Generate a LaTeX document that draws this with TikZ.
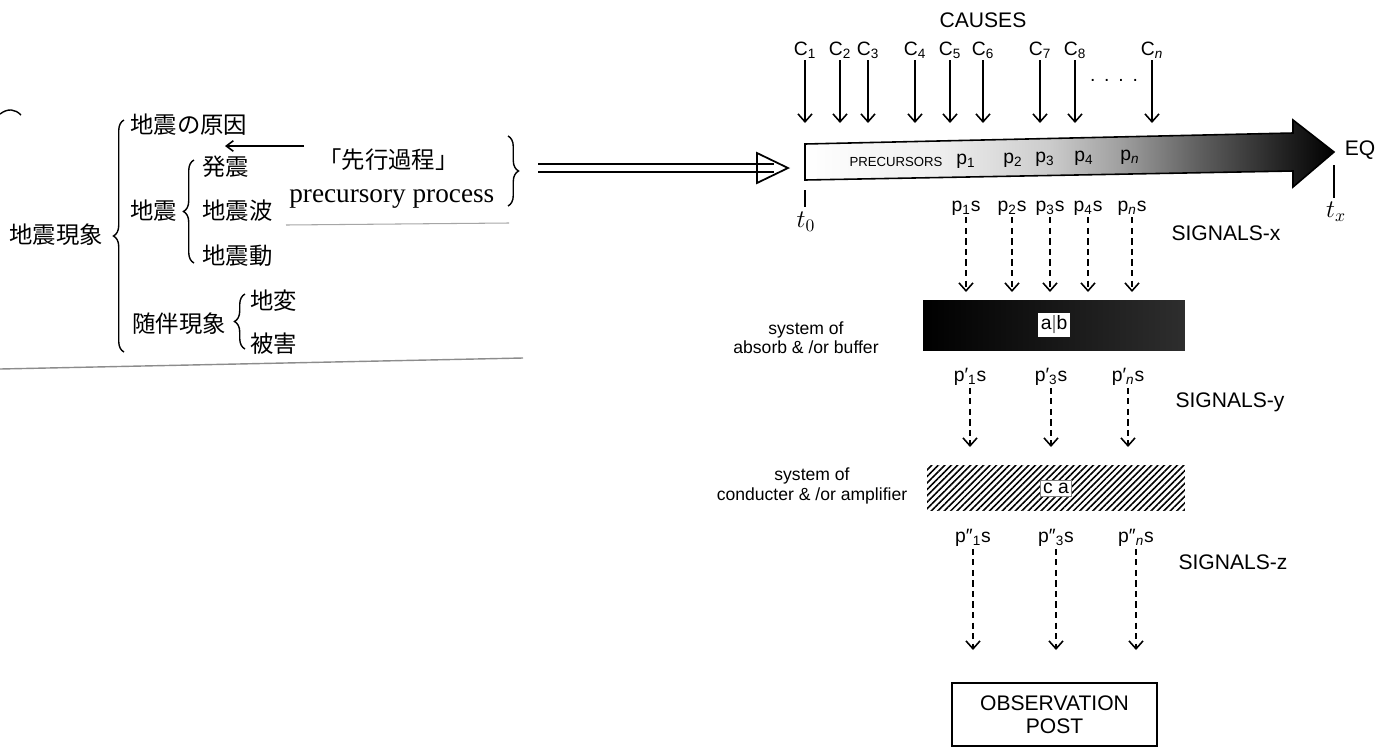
\documentclass[tikz,border=0pt]{standalone}
\usepackage{fontspec}
\setmainfont{Liberation Serif}
\setsansfont{Liberation Sans}
\newfontfamily\jpfont{Noto Sans CJK JP}
\usepackage{tikz}
\usetikzlibrary{positioning,arrows.meta,calc,patterns.meta,decorations.pathreplacing}
% light stipple on the left, black at the head
\pgfdeclarehorizontalshading{precshade}{100bp}{color(0bp)=(white); color(25bp)=(white); color(38bp)=(black!7); color(48bp)=(black!20); color(55bp)=(black!38); color(62bp)=(black!62); color(70bp)=(black!86); color(75bp)=(black); color(100bp)=(black)}

\begin{document}
\begin{tikzpicture}[x=0.02cm,y=-0.02cm,
  jp/.style={font=\jpfont\fontsize{13.3}{16}\selectfont,inner sep=0pt},
  sf/.style={font=\sffamily\fontsize{11}{13}\selectfont,inner sep=1pt},
  sfl/.style={font=\sffamily\fontsize{12}{14}\selectfont,inner sep=1pt},
  sfs/.style={font=\sffamily\fontsize{10}{11}\selectfont,align=center,inner sep=1pt},
  tlab/.style={font=\fontsize{14}{16}\selectfont,inner sep=1pt},
  cur/.style={decorate,decoration={brace,amplitude=6pt},line width=0.8pt},
  hit/.style={-{Straight Barb[length=4.5pt,width=8pt]},line width=0.9pt},
  sigarr/.style={hit,dash pattern=on 3.5pt off 2.5pt}]
  \useasboundingbox (0,0) rectangle (1383,751);

  % left: classification of earthquake phenomena
  \draw[line width=0.8pt] (0,114) .. controls (8,108) and (15,109) .. (21,115);
  \node[jp] (quake) at (56,235) {地震現象};
  \node[jp,anchor=west] (cause) at (130,125) {地震の原因};
  \node[jp,anchor=west] (shock) at (130,211) {地震};
  \node[jp,anchor=west] (attend) at (132,324) {随伴現象};
  \node[jp,anchor=west] (onset) at (202,167) {発震};
  \node[jp,anchor=west] (wave) at (202,211) {地震波};
  \node[jp,anchor=west] (motion) at (202,256) {地震動};
  \node[jp,anchor=west] (deform) at (250,301) {地変};
  \node[jp,anchor=west] (damage) at (250,344) {被害};
  \node[jp,anchor=west] (senko) at (318,160) {「先行過程」};
  \node[font=\fontsize{15.5}{18}\selectfont,anchor=west,inner sep=0pt] (precproc) at (289,199) {precursory process};
  \draw[cur] (124,352) -- (124,120);
  \draw[cur] (194,263) -- (194,160);
  \draw[cur] (245,349) -- (245,294);
  \draw[cur] (508,136) -- (508,206);
  \coordinate (senkoarr) at (304,146);
  \coordinate (onsetarr) at (225,146);
  \draw[-{Straight Barb[length=4pt,width=6pt]},line width=0.9pt] (senkoarr) -- (onsetarr);
  \draw[black!35,line width=0.6pt] (286,225) -- (509,223);
  \draw[black!45,line width=0.8pt] (0,369) -- (523,358);

  % double arrow to the time bar
  \coordinate (bracetip) at (520,168);
  \coordinate (bartail) at (788,168);
  \draw[line width=1pt] ($(bracetip)+(18,-4)$) -- ($(bartail)+(-14,-4)$)
                        ($(bracetip)+(18,4)$) -- ($(bartail)+(-14,4)$);
  \draw[line width=1pt,line join=miter] ($(bartail)+(-31,-15)$) -- (bartail) -- ($(bartail)+(-31,15)$) -- cycle;

  % causes
  \node[sfl] (causes) at (983,20) {CAUSES};
  \coordinate (bartop) at (0,123);
  \foreach \x/\s [count=\i] in {805/1,840/2,868/3,915/4,950/5,983/6,1040/7,1075/8,1152/\textit{n}}{
    \node[sf] (c\i) at (\x,50) {C\textsubscript{\s}};
    \draw[hit] (c\i.south) -- (c\i.south |- bartop);
  }
  \node[sf] (cdots) at (1114,80) {.\hspace{5pt}.\hspace{5pt}.\hspace{5pt}.};

  % precursor bar
  \shadedraw[shading=precshade,draw=black,line width=0.9pt,line join=miter]
    (805,144) -- (1293,133) -- (1293,120) -- (1334,152) -- (1293,187) -- (1293,171) -- (805,180) -- cycle;
  \node[font=\sffamily\fontsize{7.5}{9}\selectfont,inner sep=1pt] (precs) at (896,162) {PRECURSORS};
  \foreach \x/\y/\s [count=\i] in {966/161/1,1013/160/2,1045/159/3,1084/158/4,1130/157/\textit{n}}
    \node[sf] (p\i) at (\x,\y) {p\textsubscript{\s}};
  \coordinate (tstart) at (805,190);
  \coordinate (tend) at (1334,165);
  \draw[line width=0.9pt] (tstart) -- ++(0,17);
  \draw[line width=0.9pt] (tend) -- ++(0,33);
  \node[tlab] (t0) at (806,222) {$t_0$};
  \node[tlab] (tx) at (1336,212) {$t_x$};
  \node[sfl] (eqk) at (1360,150) {EQ};

  % signals x
  \coordinate (absorbtop) at (0,292);
  \foreach \x/\s [count=\i] in {966/1,1012/2,1050/3,1088/4,1132/\textit{n}}{
    \node[sf] (sx\i) at (\x,208) {p\textsubscript{\s}s};
    \draw[sigarr] (sx\i.south) -- (sx\i.south |- absorbtop);
  }
  \node[sfl] (sigx) at (1226,233) {SIGNALS-x};

  % absorb / buffer
  \node[left color=black,right color=black!82,minimum width=5.24cm,minimum height=1cm,inner sep=0pt] (absorb) at (1054,325) {};
  \node[sf,fill=white,inner sep=1.5pt] (abtag) at (absorb) {a{\color{black!55}|}b};
  \node[sfs] (sysab) at (806,338) {system of\\absorb \& /or buffer};

  % signals y
  \coordinate (condtop) at (0,447);
  \foreach \x/\s [count=\i] in {970/1,1051/3,1128/\textit{n}}{
    \node[sf] (sy\i) at (\x,377) {p′\textsubscript{\s}s};
    \draw[sigarr] (sy\i.south) -- (sy\i.south |- condtop);
  }
  \node[sfl] (sigy) at (1230,402) {SIGNALS-y};

  % conductor / amplifier
  \node[pattern={Lines[angle=45,distance=2.6pt,line width=0.9pt]},minimum width=5.16cm,minimum height=0.9cm,inner sep=0pt] (conduct) at (1056,488) {};
  \node[sf,fill=white,draw=black!50,line width=0.4pt,inner sep=1.5pt] (catag) at (conduct) {c a};
  \node[sfs] (sysca) at (812,486) {system of\\conducter \& /or amplifier};

  % signals z
  \coordinate (obstop) at (0,650);
  \foreach \x/\s [count=\i] in {973/1,1056/3,1136/\textit{n}}{
    \node[sf] (sz\i) at (\x,538) {p″\textsubscript{\s}s};
    \draw[sigarr] (sz\i.south) -- (sz\i.south |- obstop);
  }
  \node[sfl] (sigz) at (1233,562) {SIGNALS-z};

  \node[draw,line width=1pt,minimum width=4.1cm,minimum height=1.26cm,align=center,
        font=\sffamily\fontsize{12}{13}\selectfont] (obs) at (1054.5,714.5) {OBSERVATION\\POST};
\end{tikzpicture}
\end{document}
